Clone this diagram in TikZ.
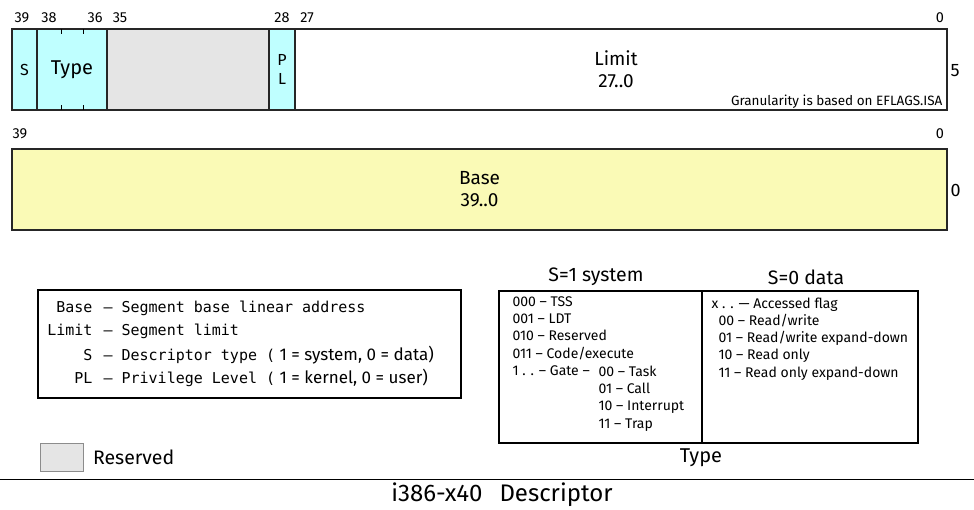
\documentclass[tikz,border=0pt]{standalone}
\usepackage{fontspec}
\setmainfont{Fira Sans}
\newfontfamily\legendmono{DejaVu Sans Mono}
\usetikzlibrary{positioning}
\definecolor{fieldcyan}{RGB}{191,255,255}
\definecolor{reservedgrey}{RGB}{229,229,229}
\definecolor{baseyellow}{RGB}{250,250,182}
\newcommand{\fsz}[1]{\fontsize{#1}{#1}\selectfont}
\newcommand{\fszb}[2]{\fontsize{#1}{#2}\selectfont}

\begin{document}
\begin{tikzpicture}[x=1pt,y=-1pt,line width=1.1pt,
	bitno/.style={font=\fsz{14.5},inner sep=0pt},
	field/.style={draw=black!85,inner sep=0pt,minimum height=81pt},
	tablebox/.style={draw=black,inner sep=0pt,minimum height=152pt},
	typetext/.style={font=\fszb{14}{17.3},align=left,inner sep=0pt,anchor=north west}]
			\useasboundingbox (0,0) rectangle (974,510);
			
			% descriptor fields
			\node[field,fill=fieldcyan,minimum width=25pt,font=\fsz{16}] (sfield) at (24.5,69.5) {S};
			\node[field,fill=fieldcyan,minimum width=70pt,font=\fsz{20}] (typefield) at (72,69.5) {Type};
			\node[field,fill=reservedgrey,minimum width=162pt] (resfield) at (188,69.5) {};
			\node[field,fill=fieldcyan,minimum width=26pt,font=\fszb{16}{19},align=center] (plfield) at (282,69.5) {P\\L};
			\node[field,fill=white,minimum width=652pt] (limitfield) at (621,69.5) {};
			\node[font=\fszb{19}{22},align=center,inner sep=0pt] (limittext) at (616,69.5) {Limit\\27..0};
			\foreach \x in {61,83} {
				\draw[line width=0.8pt] (\x,29) -- (\x,34);
				\draw[line width=0.8pt] (\x,110) -- (\x,105);
			}
			\node[font=\fsz{13.5},inner sep=0pt,anchor=base east] (gran) at (943,106) {Granularity is based on EFLAGS.ISA};
			\foreach \n/\x in {39/22,38/49,36/95,35/120,28/282,27/307,0/940}
			\node[bitno] (top\n) at (\x,18) {\n};
			\node[font=\fsz{18},inner sep=0pt,anchor=west] (word5) at (950,71) {5};
			
			\node[field,fill=baseyellow,minimum width=935pt,font=\fszb{19}{22},align=center] (basefield) at (479.5,189.5) {Base\\39..0};
			\node[bitno] (base39) at (20,134) {39};
			\node[bitno] (base0) at (940,134) {0};
			\node[font=\fsz{18},inner sep=0pt,anchor=west] (word0) at (950,190) {0};
			
			% legend
			\node[draw=black,minimum width=423pt,minimum height=108pt] (legend) at (249.5,344) {};
			\foreach \lname/\ltext/\y [count=\i] in {Base/{— Segment base linear address}/308,
				Limit/{— Segment limit}/331,
				S/{— Descriptor type ({\normalfont\fsz{17} 1 = system, 0 = data)}}/355,
				PL/{— Privilege Level ({\normalfont\fsz{17} 1 = kernel, 0 = user)}}/378} {
				\node[font=\legendmono\fsz{15},inner sep=0pt,anchor=base east] (lname\i) at (93,\y+5) {\lname};
				\node[font=\legendmono\fsz{15},inner sep=0pt,anchor=base west] (ldesc\i) at (103,\y+5) {\ltext};
			}
			
			% type encodings
			\node[font=\fsz{19.5}] (syshead) at (596,277) {S=1 system};
			\node[font=\fsz{19.5}] (datahead) at (806,277) {S=0 data};
			\node[tablebox,minimum width=203pt] (sysbox) at (600.5,367) {};
			\node[tablebox,minimum width=216pt] (databox) at (810,367) {};
			\node[typetext] (systext) at (512,296) {000 -- TSS\\001 -- LDT\\010 -- Reserved\\011 -- Code/execute\\1 . . -- Gate --};
			\node[typetext] (gatetext) at (598,365.2) {00 -- Task\\01 -- Call\\10 -- Interrupt\\11 -- Trap};
			\node[typetext] (datatext) at (711,297) {x . . --- Accessed flag\\\hspace*{7pt}00 -- Read/write\\\hspace*{7pt}01 -- Read/write expand-down\\\hspace*{7pt}10 -- Read only\\\hspace*{7pt}11 -- Read only expand-down};
			\node[font=\fsz{20}] (typecap) at (701,458) {Type};
			
			% reserved key and title
			\node[draw=black!45,fill=reservedgrey,line width=1pt,minimum width=43pt,minimum height=28pt] (reskey) at (61.5,457) {};
			\node[font=\fsz{19.5},inner sep=0pt,right=9pt of reskey] (reslabel) {Reserved};
			\coordinate (ruleleft) at (0,479);
			\coordinate (ruleright) at (974,479);
			\draw[line width=1pt] (ruleleft) -- (ruleright);
			\node[font=\fsz{24}] (title) at (502,495) {i386-x40\hspace{0.45em} Descriptor};
			\end{tikzpicture}
\end{document}
